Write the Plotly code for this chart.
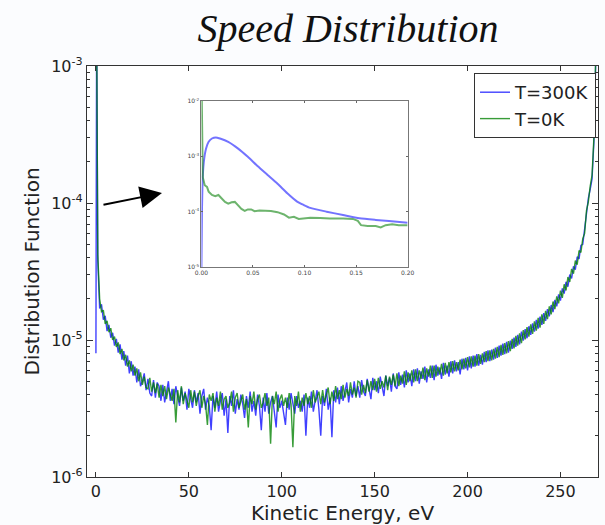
import plotly.graph_objects as go

# ---------------- data ----------------
# main panel: kinetic energy grid (eV)
E_HEAD = [0.0, 0.4, 1.0]
E_BODY = list(range(2, 267))
E_TAIL = [267.0, 268.0, 268.6, 269.2]
ENERGY = E_HEAD + E_BODY + E_TAIL

# distribution function, in units of 1e-6 (one row = 10 eV)
F300_HEAD = [8.0, 2500.0, 38.0]
F300_BODY = [
    17.0, 18.2, 14.1, 15.0, 11.6, 12.9, 10.4, 11.3, 9.1, 10.2,
    8.1, 9.3, 7.2, 8.3, 6.5, 7.7, 5.7, 7.0, 5.5, 6.4,
    4.9, 6.1, 4.6, 5.0, 5.7, 4.3, 5.2, 4.1, 3.9, 5.1,
    3.8, 4.9, 4.6, 3.6, 4.7, 3.5, 4.3, 5.0, 3.6, 4.4,
    3.4, 4.6, 3.9, 3.3, 4.5, 3.6, 4.2, 3.1, 4.4, 3.7,
    3.2, 4.3, 3.5, 4.1, 2.9, 3.9, 4.4, 3.1, 3.8, 3.3,
    2.2, 3.9, 3.2, 4.2, 3.0, 3.6, 4.1, 2.8, 3.7, 2.1,
    3.9, 3.3, 4.3, 2.9, 3.7, 3.1, 4.0, 3.4, 2.7, 3.9,
    3.2, 4.2, 3.0, 3.6, 2.8, 4.0, 3.3, 2.2, 3.8, 3.0,
    4.1, 2.9, 3.5, 3.9, 3.1, 2.3, 4.0, 3.2, 3.6, 2.8,
    2.4, 3.8, 3.1, 4.1, 3.3, 2.9, 3.9, 3.2, 3.6, 3.0,
    4.0, 2.0, 3.8, 3.2, 4.2, 3.0, 3.6, 4.3, 3.1, 2.0,
    3.9, 3.3, 4.4, 3.1, 3.8, 1.95, 4.3, 3.5, 4.5, 3.4,
    4.6, 3.6, 4.2, 4.9, 3.5, 4.4, 3.8, 5.0, 3.9, 4.6,
    3.8, 5.1, 4.2, 3.9, 5.2, 4.4, 3.7, 5.3, 4.3, 5.0,
    4.1, 5.4, 4.5, 3.9, 5.5, 4.6, 5.3, 4.2, 5.7, 4.6,
    4.4, 5.8, 4.7, 5.6, 4.5, 6.0, 4.9, 5.7, 4.6, 6.1,
    5.0, 6.2, 4.8, 5.9, 5.2, 6.4, 4.9, 6.1, 5.3, 6.5,
    5.1, 6.6, 5.5, 6.3, 5.2, 6.8, 5.6, 6.5, 5.4, 7.0,
    5.7, 7.1, 5.9, 6.9, 5.6, 7.3, 6.1, 7.4, 6.0, 7.6,
    6.2, 7.7, 6.4, 7.9, 6.5, 7.8, 6.6, 8.2, 6.9, 8.4,
    7.0, 8.5, 7.2, 8.8, 7.4, 9.1, 7.7, 9.4, 7.9, 9.7,
    8.1, 9.9, 8.6, 10.4, 8.9, 10.9, 9.3, 11.5, 9.9, 12.0,
    10.3, 12.6, 10.9, 13.2, 11.5, 14.0, 12.1, 14.8, 12.9, 15.7,
    13.8, 16.8, 14.9, 18.0, 16.0, 19.6, 17.6, 21.5, 19.4, 23.8,
    21.8, 26.6, 24.5, 30.0, 28.2, 34.5, 32.6, 40.5, 39.0, 49.0,
    50.0, 65.0, 82.0, 108.0, 126.0,
]
F300_TAIL = [150.0, 280.0, 600.0, 1500.0]

F0_HEAD = [2500.0, 1800.0, 42.0]
F0_BODY = [
    20.0, 16.1, 16.5, 13.1, 13.8, 11.4, 12.2, 10.0, 10.6, 8.9,
    9.6, 7.9, 8.6, 7.1, 7.8, 6.4, 7.1, 5.9, 6.6, 5.5,
    6.2, 5.0, 5.8, 4.7, 5.4, 4.5, 4.4, 5.3, 4.2, 4.9,
    4.1, 4.8, 3.8, 4.7, 3.9, 4.6, 3.7, 4.5, 4.0, 3.6,
    4.4, 2.5, 4.3, 3.5, 4.6, 3.4, 4.1, 3.6, 3.2, 4.3,
    3.5, 4.2, 3.3, 3.9, 4.3, 3.2, 3.9, 3.4, 2.4, 4.0,
    3.6, 4.1, 3.0, 3.8, 3.3, 4.2, 3.1, 3.7, 3.9, 3.2,
    3.5, 4.2, 3.0, 3.8, 4.1, 3.2, 3.6, 4.0, 3.1, 3.7,
    2.3, 3.9, 3.4, 4.2, 3.1, 3.7, 4.0, 3.2, 3.5, 4.1,
    3.3, 3.8, 1.75, 3.9, 3.4, 4.2, 3.0, 3.7, 4.0, 3.3,
    3.8, 3.2, 4.1, 3.4, 1.65, 3.9, 3.3, 4.2, 3.0, 3.8,
    3.3, 4.1, 3.4, 3.9, 3.2, 4.3, 3.5, 3.8, 4.2, 3.4,
    4.3, 3.5, 4.0, 4.5, 3.4, 4.2, 3.6, 4.6, 3.7, 4.3,
    3.7, 4.7, 3.8, 4.4, 3.9, 4.9, 4.0, 4.5, 3.8, 5.0,
    4.9, 4.0, 4.7, 4.1, 5.1, 4.2, 5.0, 4.3, 5.2, 4.2,
    5.3, 4.4, 5.0, 4.5, 5.5, 4.3, 5.4, 4.7, 5.6, 4.6,
    5.7, 4.6, 5.5, 4.8, 5.9, 4.7, 5.8, 5.0, 6.0, 4.9,
    6.1, 5.0, 6.0, 5.2, 6.3, 5.1, 6.2, 5.4, 6.5, 5.3,
    6.5, 5.4, 6.4, 5.6, 6.7, 5.5, 6.8, 5.7, 6.9, 5.8,
    7.0, 5.9, 6.9, 6.0, 7.2, 6.1, 7.3, 6.2, 7.5, 6.3,
    7.6, 6.4, 7.7, 6.5, 7.9, 6.7, 8.0, 6.9, 8.3, 7.0,
    8.4, 7.1, 8.6, 7.3, 8.9, 7.5, 9.2, 7.8, 9.5, 8.0,
    9.8, 8.3, 10.2, 8.7, 10.7, 9.1, 11.2, 9.5, 11.8, 10.1,
    12.4, 10.6, 13.0, 11.1, 13.7, 11.7, 14.5, 12.3, 15.4, 13.1,
    16.3, 14.2, 17.6, 15.4, 19.1, 16.8, 20.8, 18.5, 22.9, 20.3,
    25.5, 23.0, 28.8, 26.5, 33.0, 30.5, 38.0, 35.5, 45.0, 43.5,
    55.0, 60.0, 88.0, 102.0, 133.0,
]
F0_TAIL = [160.0, 300.0, 650.0, 1600.0]

UNIT = 1e-6
F300 = [v * UNIT for v in F300_HEAD + F300_BODY + F300_TAIL]
F0 = [v * UNIT for v in F0_HEAD + F0_BODY + F0_TAIL]

# inset (low-energy zoom)
INSET_E_300 = [0.0, 0.0005, 0.0013, 0.0025, 0.0045, 0.007, 0.0102, 0.014, 0.018,
               0.026, 0.0356, 0.045, 0.0547, 0.0642, 0.0738, 0.0833, 0.0928,
               0.0992, 0.1056, 0.1215, 0.1374, 0.1533, 0.1691, 0.1819, 0.2]
INSET_F_300 = [1.0e-5, 1.0e-4, 4.3e-4, 8.5e-4, 1.38e-3, 1.83e-3, 2.1e-3, 2.2e-3, 2.1e-3,
               1.83e-3, 1.38e-3, 9.8e-4, 6.6e-4, 4.6e-4, 3.2e-4, 2.15e-4, 1.52e-4,
               1.32e-4, 1.17e-4, 1.0e-4, 8.7e-5, 7.6e-5, 7.1e-5, 6.8e-5, 6.3e-5]
INSET_E_0 = [0.0003, 0.0008, 0.0013, 0.0032, 0.0054, 0.007, 0.0102, 0.0134, 0.0165,
             0.0197, 0.0229, 0.026, 0.0293, 0.0324, 0.0356, 0.0388, 0.042, 0.045,
             0.0483, 0.0515, 0.0563, 0.061, 0.0674, 0.0738, 0.0801, 0.0849, 0.0897,
             0.0944, 0.0992, 0.1056, 0.1151, 0.1246, 0.1374, 0.1469, 0.1517, 0.1548,
             0.1612, 0.1691, 0.1739, 0.1787, 0.185, 0.1914, 0.2]
INSET_F_0 = [1.2e-2, 4.5e-4, 4.2e-4, 3.0e-4, 2.8e-4, 2.3e-4, 2.0e-4, 1.9e-4, 2.0e-4,
             1.73e-4, 1.5e-4, 1.4e-4, 1.48e-4, 1.5e-4, 1.32e-4, 1.12e-4, 1.03e-4, 1.1e-4,
             1.1e-4, 1.02e-4, 1.05e-4, 1.05e-4, 1.03e-4, 9.8e-5, 8.9e-5, 7.8e-5, 8.1e-5,
             7.4e-5, 7.5e-5, 7.8e-5, 7.7e-5, 7.5e-5, 7.5e-5, 7.4e-5, 6.8e-5, 5.7e-5,
             5.5e-5, 5.5e-5, 5.2e-5, 5.7e-5, 5.9e-5, 5.7e-5, 5.7e-5]

X_TICKS = [0, 50, 100, 150, 200, 250]
Y_TICKS = [1e-6, 1e-5, 1e-4, 1e-3]
Y_TICK_TEXT = ["10<sup>-6</sup>", "10<sup>-5</sup>", "10<sup>-4</sup>", "10<sup>-3</sup>"]
IX_TICKS = [0.0, 0.05, 0.10, 0.15, 0.20]
IX_TICK_TEXT = ["0.00", "0.05", "0.10", "0.15", "0.20"]
IY_TICKS = [1e-5, 1e-4, 1e-3, 1e-2]
IY_TICK_TEXT = ["10<sup>-5</sup>", "10<sup>-4</sup>", "10<sup>-3</sup>", "10<sup>-2</sup>"]

SERIES_NAMES = ["T=300K", "T=0K"]
BLUE = "rgba(0,0,255,0.75)"
GREEN = "rgba(0,128,0,0.78)"
BLUE_INSET = "rgba(40,40,255,0.65)"
GREEN_INSET = "rgba(30,140,30,0.65)"

# ---------------- figure ----------------
fig = go.Figure()
fig.add_trace(go.Scatter(x=ENERGY, y=F300, mode="lines", name=SERIES_NAMES[0],
                         line=dict(color=BLUE, width=1.4), xaxis="x", yaxis="y"))
fig.add_trace(go.Scatter(x=ENERGY, y=F0, mode="lines", name=SERIES_NAMES[1],
                         line=dict(color=GREEN, width=1.4), xaxis="x", yaxis="y"))
fig.add_trace(go.Scatter(x=INSET_E_300, y=INSET_F_300, mode="lines", showlegend=False,
                         line=dict(color=BLUE_INSET, width=2, shape="spline", smoothing=0.6),
                         xaxis="x2", yaxis="y2"))
fig.add_trace(go.Scatter(x=INSET_E_0, y=INSET_F_0, mode="lines", showlegend=False,
                         line=dict(color=GREEN_INSET, width=2), xaxis="x2", yaxis="y2"))

AX = "#333333"
font_main = dict(family="DejaVu Sans", color="#222222")

fig.update_layout(
    width=605, height=525, autosize=False,
    margin=dict(l=87, r=0, t=66, b=48),
    paper_bgcolor="#fbfcfe", plot_bgcolor="white",
    font=font_main,
    title=dict(text="Speed Distribution", x=348 / 605, xref="container", xanchor="center",
               y=1 - 28 / 525, yref="container", yanchor="middle",
               font=dict(family="Liberation Serif", size=40, color="#111111", style="italic")),
    xaxis=dict(domain=[0, 1], range=[-4.8, 270.2], tickmode="array", tickvals=X_TICKS,
               ticks="inside", ticklen=5, tickcolor=AX, showline=True, linecolor=AX,
               linewidth=1.3, mirror="allticks", showgrid=False, zeroline=False,
               tickfont=dict(size=16, color="#222222"),
               title=dict(text="Kinetic Energy, eV", font=dict(size=20, color="#222222"), standoff=8)),
    yaxis=dict(type="log", range=[-6, -3], tickmode="array", tickvals=Y_TICKS, ticktext=Y_TICK_TEXT,
               ticks="inside", ticklen=6, tickcolor=AX, showline=True, linecolor=AX,
               linewidth=1.3, mirror="allticks", showgrid=False, zeroline=False,
               tickfont=dict(size=16, color="#222222"),
               minor=dict(ticks="inside", ticklen=3, tickcolor=AX, dtick="D1", showgrid=False),
               title=dict(text="Distribution Function", font=dict(size=20, color="#222222"), standoff=6)),
    xaxis2=dict(domain=[(203 - 87) / 518, (412 - 87) / 518], anchor="y2", range=[0, 0.2],
                tickmode="array", tickvals=IX_TICKS, ticktext=IX_TICK_TEXT,
                ticks="inside", ticklen=2, tickcolor="#666666", showline=True,
                linecolor="#777777", linewidth=1, mirror="allticks", showgrid=False,
                zeroline=False, tickfont=dict(size=6, color="#444444")),
    yaxis2=dict(domain=[(477 - 267) / 411, (477 - 101) / 411], anchor="x2", type="log",
                range=[-5, -2], tickmode="array", tickvals=IY_TICKS, ticktext=IY_TICK_TEXT,
                ticks="inside", ticklen=2, tickcolor="#666666", showline=True,
                linecolor="#777777", linewidth=1, mirror="allticks", showgrid=False,
                zeroline=False, tickfont=dict(size=6, color="#444444")),
    legend=dict(x=(603 - 87) / 518, y=(477 - 73) / 411, xanchor="right", yanchor="top",
                bgcolor="white", bordercolor="#333333", borderwidth=1,
                font=dict(size=18, color="#222222"), tracegroupgap=0),
    showlegend=True,
)

fig.add_annotation(x=(163 - 87) / 518, y=(477 - 193) / 411, xref="paper", yref="paper",
                   ax=-60, ay=12, showarrow=True, arrowhead=2, arrowsize=2.2,
                   arrowwidth=2, arrowcolor="black", standoff=0, text="")

fig.write_html("out.html")
